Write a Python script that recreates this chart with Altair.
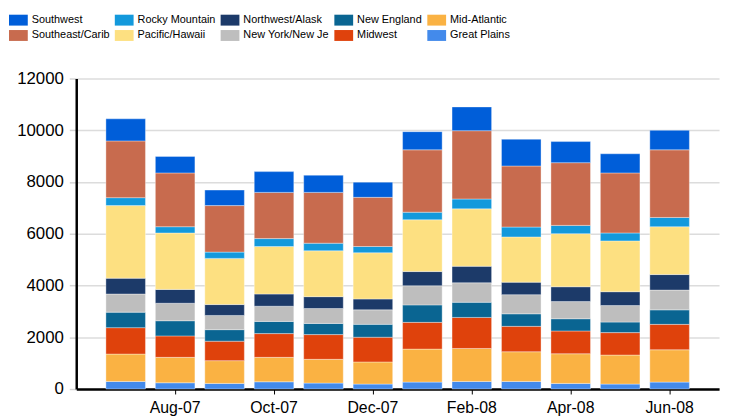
import altair as alt
import pandas as pd

months = ["Jul-07", "Aug-07", "Sep-07", "Oct-07", "Nov-07", "Dec-07",
          "Jan-08", "Feb-08", "Mar-08", "Apr-08", "May-08", "Jun-08"]

# stack order, bottom to top
stack_series = ["Great Plains", "Mid-Atlantic", "Midwest", "New England", "New York/New Je",
                "Northwest/Alask", "Pacific/Hawaii", "Rocky Mountain", "Southeast/Carib", "Southwest"]

great_plains = [293, 242, 217, 280, 230, 191, 268, 293, 293, 217, 191, 268]
mid_atlantic = [1058, 982, 880, 944, 918, 855, 1275, 1275, 1148, 1147, 1122, 1249]
midwest = [1021, 829, 752, 918, 956, 956, 1033, 1199, 982, 880, 867, 982]
new_england = [599, 586, 446, 472, 433, 497, 675, 586, 484, 472, 408, 561]
new_york = [701, 676, 548, 586, 574, 561, 740, 753, 740, 663, 638, 765]
northwest = [612, 536, 421, 472, 459, 421, 548, 637, 484, 574, 535, 599]
pacific = [2805, 2180, 1785, 1836, 1772, 1785, 2002, 2219, 1747, 2052, 1964, 1849]
rocky = [306, 242, 242, 306, 294, 242, 293, 382, 382, 319, 306, 357]
southeast = [2193, 2078, 1798, 1785, 1963, 1900, 2410, 2639, 2359, 2423, 2320, 2614]
southwest = [854, 638, 599, 803, 663, 586, 701, 918, 1033, 816, 740, 752]

values = [great_plains, mid_atlantic, midwest, new_england, new_york,
          northwest, pacific, rocky, southeast, southwest]

# legend order (filled column by column, 2 rows x 5 columns)
legend_order = ["Southwest", "Southeast/Carib", "Rocky Mountain", "Pacific/Hawaii",
                "Northwest/Alask", "New York/New Je", "New England", "Midwest",
                "Mid-Atlantic", "Great Plains"]
legend_colors = ["#005ed9", "#c86b4e", "#1399dc", "#fde081", "#1c3a69",
                 "#bebebe", "#0a6592", "#df420c", "#fab243", "#438aeb"]

tick_months = ["Aug-07", "Oct-07", "Dec-07", "Feb-08", "Apr-08", "Jun-08"]

rows = []
for si, (name, vals) in enumerate(zip(stack_series, values)):
    for m, v in zip(months, vals):
        rows.append({"month": m, "series": name, "value": v, "order": si})
df = pd.DataFrame(rows)

rect_path = "M-1,-0.58H1V0.58H-1Z"

chart = alt.Chart(df).mark_bar(stroke="white", strokeWidth=0.6, strokeOpacity=0.6).encode(
    x=alt.X("month:N", sort=months,
            scale=alt.Scale(paddingInner=0.2, paddingOuter=0.6),
            axis=alt.Axis(values=tick_months, title=None, labelAngle=0,
                          labelFont="Liberation Sans", labelFontSize=16, labelColor="black",
                          domainColor="black", domainWidth=2.5, tickColor="black",
                          tickSize=5, tickWidth=1, labelPadding=6, grid=False)),
    y=alt.Y("value:Q", stack="zero",
            scale=alt.Scale(domain=[0, 12000], nice=False),
            axis=alt.Axis(values=[0, 2000, 4000, 6000, 8000, 10000, 12000], title=None,
                          format="d",
                          labelFont="Liberation Sans", labelFontSize=17, labelColor="black",
                          domainColor="black", domainWidth=2.5, tickColor="#d4d4d4",
                          tickSize=7, tickWidth=1.5, labelPadding=6,
                          grid=True, gridColor="#dcdcdc", gridWidth=1.5)),
    color=alt.Color("series:N", sort=legend_order,
                    scale=alt.Scale(domain=legend_order, range=legend_colors),
                    legend=alt.Legend(orient="none", legendX=-68, legendY=-69, columns=5,
                                      title=None, symbolType=rect_path, symbolSize=361,
                                      symbolStrokeWidth=0, symbolOpacity=1,
                                      labelFont="Liberation Sans", labelFontSize=11,
                                      labelColor="black", labelOffset=4,
                                      columnPadding=5, rowPadding=-2, padding=0,
                                      labelLimit=200)),
    order=alt.Order("order:Q", sort="ascending"),
).properties(
    width=650, height=314,
    autosize=alt.AutoSizeParams(type="none"),
    padding={"left": 69, "top": 69, "right": 5, "bottom": 27},
).configure_view(stroke=None)

chart.save("out.html", embed_options={"renderer": "svg", "actions": False})
